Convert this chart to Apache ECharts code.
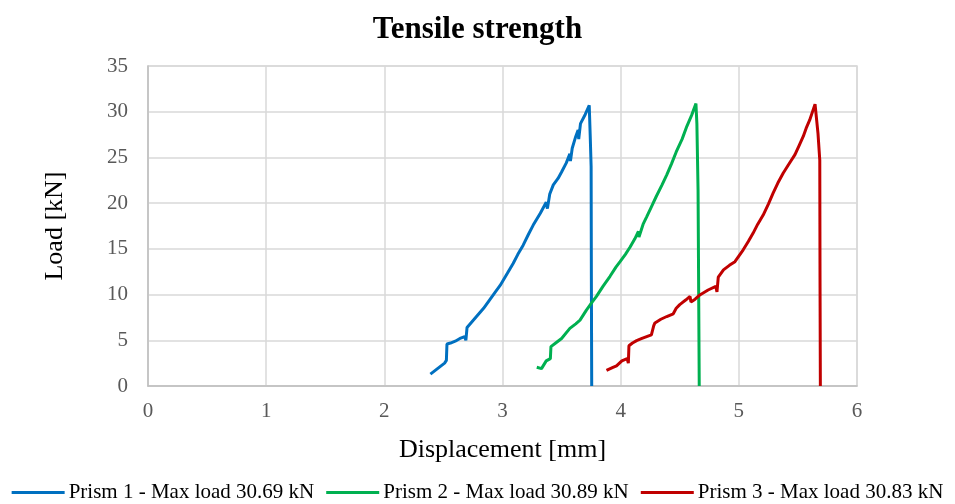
<!DOCTYPE html>
<html>
<head>
<meta charset="utf-8">
<script src="https://cdn.jsdelivr.net/npm/echarts@6/dist/echarts.min.js"></script>
<style>
  html, body { margin: 0; padding: 0; background: #fff; }
  #chart { width: 955px; height: 504px; }
</style>
</head>
<body>
<div id="chart"></div>
<script>
// Load–displacement curves, [displacement mm, load kN]
const prism1 = [
  [2.39,1.3],[2.45,1.9],[2.51,2.5],[2.525,2.8],[2.53,4.6],[2.56,4.7],[2.60,4.9],[2.64,5.2],
  [2.68,5.4],[2.69,5.0],[2.70,6.4],[2.74,7.0],[2.78,7.6],[2.84,8.5],[2.89,9.4],[2.94,10.3],
  [2.98,11.0],[3.04,12.3],[3.09,13.4],[3.13,14.4],[3.175,15.4],[3.22,16.6],[3.26,17.6],
  [3.32,18.9],[3.37,20.1],[3.38,19.4],[3.40,21.0],[3.43,22.0],[3.47,22.7],[3.50,23.4],
  [3.54,24.4],[3.57,25.4],[3.575,24.6],[3.59,26.0],[3.62,27.3],[3.64,28.0],[3.645,27.0],
  [3.66,28.7],[3.70,29.7],[3.734,30.69],[3.742,27.5],[3.75,24.0],[3.752,12],[3.755,0]
];
const prism2 = [
  [3.29,2.05],[3.33,1.9],[3.37,2.75],[3.405,3.0],[3.41,4.3],[3.45,4.7],[3.50,5.2],[3.57,6.3],
  [3.62,6.8],[3.656,7.2],[3.71,8.3],[3.76,9.2],[3.795,9.8],[3.85,10.9],[3.91,12.0],[3.96,13.0],
  [3.995,13.6],[4.04,14.4],[4.08,15.2],[4.12,16.1],[4.15,16.9],[4.155,16.3],[4.19,17.7],
  [4.22,18.5],[4.26,19.6],[4.30,20.7],[4.35,22.0],[4.39,23.1],[4.43,24.3],[4.47,25.6],
  [4.52,27.0],[4.56,28.4],[4.60,29.6],[4.637,30.89],[4.645,28.7],[4.655,21.4],[4.66,10.5],[4.665,0]
];
const prism3 = [
  [3.88,1.7],[3.93,2.0],[3.965,2.2],[4.01,2.75],[4.055,3.0],[4.065,2.5],[4.07,4.4],[4.10,4.7],
  [4.135,4.96],[4.18,5.2],[4.22,5.4],[4.26,5.6],[4.28,6.6],[4.29,6.9],[4.34,7.3],[4.39,7.6],
  [4.445,7.9],[4.47,8.5],[4.50,8.9],[4.55,9.4],[4.587,9.8],[4.595,9.2],[4.63,9.5],[4.67,9.96],
  [4.74,10.5],[4.805,10.9],[4.815,10.3],[4.826,11.9],[4.87,12.7],[4.92,13.2],[4.967,13.6],
  [5.037,14.9],[5.08,15.8],[5.12,16.7],[5.16,17.7],[5.206,18.7],[5.25,19.9],[5.29,21.1],
  [5.33,22.2],[5.376,23.3],[5.42,24.2],[5.475,25.3],[5.51,26.3],[5.545,27.3],[5.57,28.2],
  [5.60,29.1],[5.645,30.83],[5.67,27.6],[5.685,24.7],[5.687,12],[5.69,0]
];
const seriesNames = [
  'Prism 1 - Max load 30.69 kN',
  'Prism 2 - Max load 30.89 kN',
  'Prism 3 - Max load 30.83 kN'
];
const seriesColors = ['#0070c0', '#00b050', '#c00000'];
const seriesData = [prism1, prism2, prism3];

const serif = '"Liberation Serif", "Times New Roman", serif';
const chart = echarts.init(document.getElementById('chart'));

chart.setOption({
  animation: false,
  backgroundColor: '#ffffff',
  title: {
    text: 'Tensile strength',
    left: 'center',
    top: 9,
    textStyle: { fontFamily: serif, fontSize: 31, fontWeight: 'bold', color: '#000' }
  },
  grid: { left: 148, right: 98, top: 66, bottom: 118, show: true, borderColor: '#d9d9d9', borderWidth: 1.5 },
  legend: {
    bottom: 1,
    left: 'center',
    padding: 0,
    itemWidth: 53,
    itemHeight: 3,
    itemGap: 12,
    icon: 'rect',
    textStyle: { fontFamily: serif, fontSize: 21, color: '#000', padding: [0, 0, 0, -1] },
    data: seriesNames
  },
  xAxis: {
    type: 'value',
    min: 0, max: 6, interval: 1,
    name: 'Displacement [mm]',
    nameLocation: 'middle',
    nameGap: 51,
    nameTextStyle: { fontFamily: serif, fontSize: 26, color: '#000' },
    axisLine: { show: true, lineStyle: { color: '#bfbfbf', width: 1.5 } },
    axisTick: { show: false },
    axisLabel: { fontFamily: serif, fontSize: 21, color: '#595959', margin: 15 },
    splitLine: { show: true, lineStyle: { color: '#d9d9d9', width: 1.5 } }
  },
  yAxis: {
    type: 'value',
    min: 0, max: 35, interval: 5,
    name: 'Load [kN]',
    nameLocation: 'middle',
    nameGap: 80,
    nameTextStyle: { fontFamily: serif, fontSize: 26, color: '#000' },
    axisLine: { show: true, lineStyle: { color: '#bfbfbf', width: 1.5 } },
    axisTick: { show: false },
    axisLabel: { fontFamily: serif, fontSize: 21, color: '#595959', margin: 20 },
    splitLine: { show: true, lineStyle: { color: '#d9d9d9', width: 1.5 } }
  },
  series: seriesData.map((d, i) => ({
    name: seriesNames[i],
    type: 'line',
    data: d,
    showSymbol: false,
    smooth: false,
    color: seriesColors[i],
    lineStyle: { width: 3, color: seriesColors[i] }
  }))
});
</script>
</body>
</html>
